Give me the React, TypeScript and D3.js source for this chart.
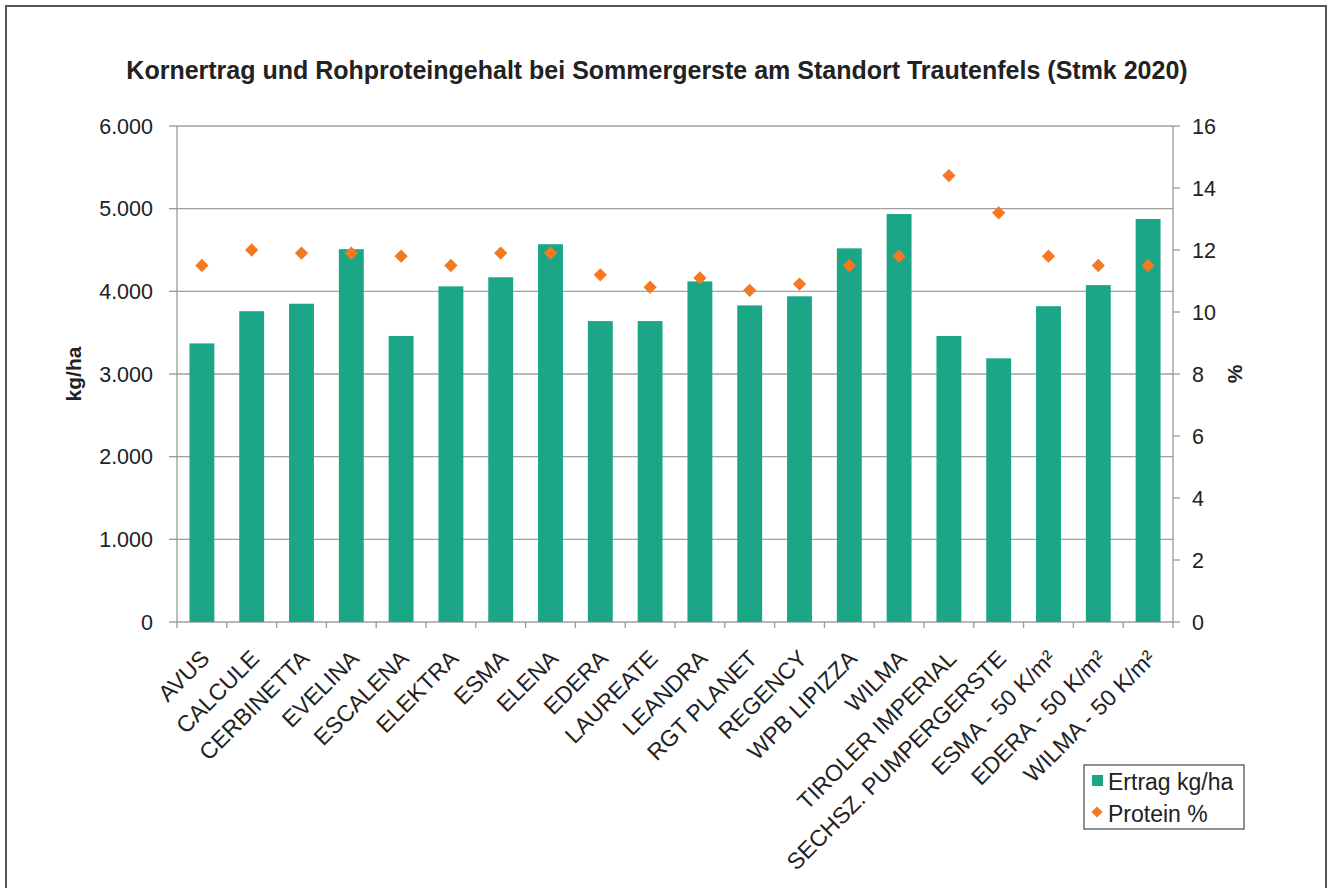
import React from "react";
import * as d3 from "d3";

const categories = [
  "AVUS", "CALCULE", "CERBINETTA", "EVELINA", "ESCALENA", "ELEKTRA", "ESMA", "ELENA",
  "EDERA", "LAUREATE", "LEANDRA", "RGT PLANET", "REGENCY", "WPB LIPIZZA", "WILMA",
  "TIROLER IMPERIAL", "SECHSZ. PUMPERGERSTE", "ESMA - 50 K/m²", "EDERA - 50 K/m²", "WILMA - 50 K/m²",
];
const ertrag = [
  3370, 3760, 3850, 4510, 3460, 4060, 4170, 4570, 3640, 3640,
  4120, 3830, 3940, 4520, 4935, 3460, 3190, 3820, 4075, 4875,
];
const protein = [
  11.5, 12.0, 11.9, 11.9, 11.8, 11.5, 11.9, 11.9, 11.2, 10.8,
  11.1, 10.7, 10.9, 11.5, 11.8, 14.4, 13.2, 11.8, 11.5, 11.5,
];
const leftTicks = [0, 1000, 2000, 3000, 4000, 5000, 6000];
const rightTicks = [0, 2, 4, 6, 8, 10, 12, 14, 16];

const title = "Kornertrag und Rohproteingehalt bei Sommergerste am Standort Trautenfels (Stmk 2020)";
const GREEN = "#1BA688";
const ORANGE = "#F47920";
const FONT = "'Liberation Sans', Arial, sans-serif";

export default function App() {
  const left = 177, right = 1173, top = 126, bottom = 622;
  const x = d3.scaleBand<string>().domain(categories).range([left, right]).paddingInner(0.5).paddingOuter(0.25);
  const xb = d3.scaleBand<string>().domain(categories).range([left, right]);
  const yL = d3.scaleLinear().domain([0, 6000]).range([bottom, top]);
  const yR = d3.scaleLinear().domain([0, 16]).range([bottom, top]);
  const fmt = (v: number) => d3.format(",")(v).replace(/,/g, ".");
  const diamond = d3.symbol().type(d3.symbolDiamond2).size(112)();

  return (
    <svg width={1332} height={888} style={{ position: "absolute", left: 0, top: 0, background: "#fff" }} fontFamily={FONT}>
      <rect x={0} y={0} width={1332} height={888} fill="#fff" />
      <path d={`M6,895 V6 H1326 V895`} fill="none" stroke="#555" strokeWidth={2} />
      <text x={657} y={79} textAnchor="middle" fontSize={25} fontWeight="bold" fill="#222">{title}</text>

      {/* gridlines */}
      {leftTicks.map((t) => (
        <line key={"g" + t} x1={left} x2={right} y1={yL(t)} y2={yL(t)} stroke="#a0a0a0" strokeWidth={1.3} />
      ))}
      {/* left axis */}
      <line x1={left} x2={left} y1={top} y2={bottom} stroke="#999" strokeWidth={1.3} />
      {leftTicks.map((t) => (
        <g key={"l" + t}>
          <line x1={left - 8} x2={left} y1={yL(t)} y2={yL(t)} stroke="#999" strokeWidth={1.3} />
          <text x={153} y={yL(t)} dy="0.36em" textAnchor="end" fontSize={21.5} fill="#222">{fmt(t)}</text>
        </g>
      ))}
      {/* right axis */}
      <line x1={right} x2={right} y1={top} y2={bottom} stroke="#999" strokeWidth={1.3} />
      {rightTicks.map((t) => (
        <g key={"r" + t}>
          <line x1={right} x2={right + 7} y1={yR(t)} y2={yR(t)} stroke="#999" strokeWidth={1.3} />
          <text x={1192} y={yR(t)} dy="0.36em" textAnchor="start" fontSize={21.5} fill="#222">{t}</text>
        </g>
      ))}
      {/* x axis ticks */}
      {categories.map((c, i) => (
        <line key={"xt" + i} x1={xb(c)!} x2={xb(c)!} y1={bottom} y2={bottom + 6} stroke="#999" strokeWidth={1.3} />
      ))}
      <line x1={right} x2={right} y1={bottom} y2={bottom + 6} stroke="#999" strokeWidth={1.3} />

      {/* bars */}
      {categories.map((c, i) => (
        <rect key={"b" + i} x={x(c)!} y={yL(ertrag[i])} width={x.bandwidth()} height={bottom - yL(ertrag[i])} fill={GREEN} />
      ))}
      {/* protein markers */}
      {categories.map((c, i) => (
        <path key={"p" + i} d={diamond!} transform={`translate(${xb(c)! + xb.bandwidth() / 2},${yR(protein[i])})`} fill={ORANGE} />
      ))}

      {/* x labels */}
      {categories.map((c, i) => {
        const cx = xb(c)! + xb.bandwidth() / 2 + 9;
        const cy = 660;
        return (
          <text key={"xl" + i} x={cx} y={cy} textAnchor="end" fontSize={23} fill="#222" transform={`rotate(-45,${cx},${cy})`}>{c}</text>
        );
      })}

      {/* axis titles */}
      <text transform="translate(81,374) rotate(-90)" textAnchor="middle" fontSize={21} fontWeight="bold" fill="#222">kg/ha</text>
      <text transform="translate(1242,374) rotate(-90)" textAnchor="middle" fontSize={21} fontWeight="bold" fill="#222">%</text>

      {/* legend */}
      <rect x={1084} y={765} width={160} height={64} fill="#fff" stroke="#555" strokeWidth={1.3} />
      <rect x={1092} y={775} width={11} height={11} fill={GREEN} />
      <text x={1108} y={790} fontSize={23} fill="#222">Ertrag kg/ha</text>
      <path d={d3.symbol().type(d3.symbolDiamond2).size(80)()!} transform="translate(1097,812)" fill={ORANGE} />
      <text x={1108} y={822} fontSize={23} fill="#222">Protein %</text>
    </svg>
  );
}
